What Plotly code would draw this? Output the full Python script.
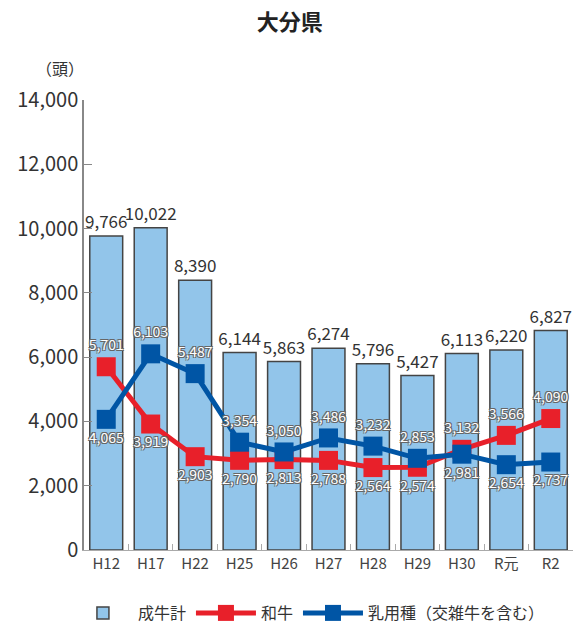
import plotly.graph_objects as go

categories = ["H12", "H17", "H22", "H25", "H26", "H27", "H28", "H29", "H30", "R元", "R2"]
total = [9766, 10022, 8390, 6144, 5863, 6274, 5796, 5427, 6113, 6220, 6827]
wagyu = [5701, 3919, 2903, 2790, 2813, 2788, 2564, 2574, 3132, 3566, 4090]
dairy = [4065, 6103, 5487, 3354, 3050, 3486, 3232, 2853, 2981, 2654, 2737]
wagyu_pos = ["top", "bottom", "bottom", "bottom", "bottom", "bottom", "bottom", "bottom", "top", "top", "top"]
dairy_pos = ["bottom", "top", "top", "top", "top", "top", "top", "top", "bottom", "bottom", "bottom"]

FONT = "Noto Sans CJK JP"
shadow = "-1px -1px 0 #666, 1px -1px 0 #666, -1px 1px 0 #666, 1px 1px 0 #666"

fig = go.Figure()
fig.add_trace(go.Bar(
    x=categories, y=total, name="成牛計",
    marker=dict(color="#92c5ea", line=dict(color="#444444", width=1.5)),
    width=0.74,
    text=[f"{v:,}" for v in total], textposition="outside", constraintext="none",
    textfont=dict(size=17, color="#333333", family=FONT),
    cliponaxis=False,
))
fig.add_trace(go.Scatter(
    x=categories, y=wagyu, name="和牛", mode="lines+markers+text",
    line=dict(color="#e8202a", width=5),
    marker=dict(symbol="square", size=19, color="#e8202a"),
    text=[f"{v:,}" for v in wagyu], textposition=[p + " center" for p in wagyu_pos],
    textfont=dict(size=14, color="white", family=FONT, shadow=shadow),
    cliponaxis=False,
))
fig.add_trace(go.Scatter(
    x=categories, y=dairy, name="乳用種（交雑牛を含む）", mode="lines+markers+text",
    line=dict(color="#0055a5", width=5),
    marker=dict(symbol="square", size=19, color="#0055a5"),
    text=[f"{v:,}" for v in dairy], textposition=[p + " center" for p in dairy_pos],
    textfont=dict(size=14, color="white", family=FONT, shadow=shadow),
    cliponaxis=False,
))

fig.update_layout(
    width=574, height=631,
    margin=dict(l=84, r=1, t=100, b=79),
    plot_bgcolor="white", paper_bgcolor="white",
    font=dict(family=FONT, color="#333333"),
    title=dict(text="<b>大分県</b>", x=0.505, xanchor="center", y=0.965, yanchor="middle",
               font=dict(size=22, color="#222222", family=FONT)),
    showlegend=True,
    legend=dict(orientation="h", x=0.46, xanchor="center", y=-0.14, yanchor="middle",
                font=dict(size=16, family=FONT, color="#333333"), traceorder="normal",
                itemwidth=60),
    bargap=0.26,
    annotations=[dict(text="（頭）", xref="paper", yref="paper", x=-0.05, y=1.07,
                      xanchor="center", yanchor="middle", showarrow=False,
                      font=dict(size=16, family=FONT, color="#333333"))],
)
fig.update_yaxes(range=[0, 14000], dtick=2000, tickformat=",", showgrid=False,
                 showline=True, linecolor="#888888", linewidth=1.5,
                 ticks="inside", ticklen=8, tickcolor="#888888",
                 tickfont=dict(size=20, color="#333333"), zeroline=False)
fig.update_xaxes(range=[-0.5, 10.5], showgrid=False, showline=True, linecolor="#aaaaaa",
                 ticks="inside", tickson="boundaries", ticklen=6, tickcolor="#aaaaaa",
                 tickfont=dict(size=15, color="#444444"))

fig.write_html("out.html", config={"displayModeBar": False},
               post_script="document.body.style.margin='0';")
